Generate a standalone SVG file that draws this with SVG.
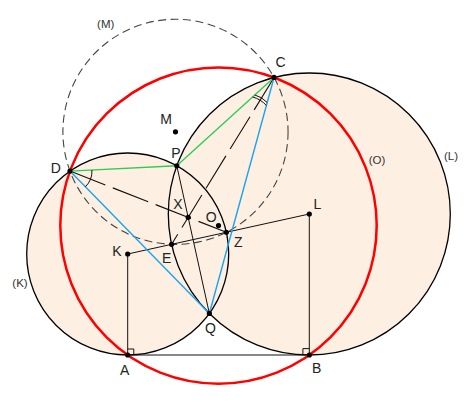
<svg xmlns="http://www.w3.org/2000/svg" width="471" height="404" viewBox="0 0 471 404">
<style>
.fill{fill:#fdf0e3;stroke:none}
.circ{fill:none;stroke:#000;stroke-width:1.3}
.red{fill:none;stroke:#ff0000;stroke-width:2.5}
.dcirc{fill:none;stroke:#444;stroke-width:1.1;stroke-dasharray:8,4.5}
.ln{stroke:#111;stroke-width:1;fill:none}
.dl{stroke:#111;stroke-width:1.1;fill:none;stroke-dasharray:38,8}
.gr{stroke:#2ecc55;stroke-width:1.4}
.bl{stroke:#1aa3f0;stroke-width:1.4}
.pt{fill:#000}
.lbl{font-family:"Liberation Sans",Arial,sans-serif;font-size:14px;fill:#222;text-anchor:middle}
.clbl{font-family:"Liberation Sans",Arial,sans-serif;font-size:11.5px;fill:#333;text-anchor:middle}
</style>
<rect width="471" height="404" fill="#fff"/>
<g id="fills">
<circle class="fill" cx="127.7" cy="254" r="101"/>
<circle class="fill" cx="309.3" cy="214" r="141"/>
</g>
<g id="circleM"><circle class="dcirc" cx="175.48" cy="131.83" r="112.57"/></g>
<g id="circleK"><circle class="circ" cx="127.7" cy="254" r="101"/></g>
<g id="circleL"><circle class="circ" cx="309.3" cy="214" r="141"/></g>
<g id="connectors">
<line class="ln" x1="127.7" y1="254" x2="127.7" y2="355"/>
<line class="ln" x1="309.3" y1="214" x2="309.3" y2="355"/>
<line class="ln" x1="127.7" y1="355" x2="309.3" y2="355"/>
<line class="ln" x1="127.7" y1="254" x2="309.3" y2="214"/>
<line class="ln" x1="176.8" y1="165.75" x2="209.35" y2="313.45"/>
<line class="dl" x1="69.98" y1="171.11" x2="226.34" y2="232.27"/>
<line class="dl" x1="274.06" y1="77.47" x2="171.6" y2="244.33"/>
<line class="gr" x1="69.98" y1="171.11" x2="176.8" y2="165.75"/>
<line class="gr" x1="176.8" y1="165.75" x2="274.06" y2="77.47"/>
<line class="bl" x1="69.98" y1="171.11" x2="209.35" y2="313.45"/>
<line class="bl" x1="274.06" y1="77.47" x2="209.35" y2="313.45"/>
<path class="ln" d="M127.7,349 H133.8 V355"/>
<path class="ln" d="M309.3,348.6 H302.9 V355"/>
<path class="ln" d="M91.95,170 A22,22 0 0 1 85.37,186.82"/>
<path class="ln" d="M254.8,94.97 A26,26 0 0 1 267.19,102.54"/>
<path class="ln" d="M252.58,96.98 A29,29 0 0 1 266.4,105.44"/>
</g>
<g id="circleO"><circle class="red" cx="218.5" cy="225.6" r="158.2"/></g>
<g id="points">
<g id="D"><circle class="pt" cx="69.98" cy="171.11" r="2.6"/><text class="lbl" x="55.8" y="172.7">D</text></g>
<g id="C"><circle class="pt" cx="274.06" cy="77.47" r="2.6"/><text class="lbl" x="280.5" y="66.5">C</text></g>
<g id="P"><circle class="pt" cx="176.8" cy="165.75" r="2.6"/><text class="lbl" x="175.8" y="158.3">P</text></g>
<g id="M"><circle class="pt" cx="175.48" cy="131.83" r="2.6"/><text class="lbl" x="166" y="124">M</text></g>
<g id="X"><circle class="pt" cx="188.17" cy="217.34" r="2.6"/><text class="lbl" x="177.8" y="209">X</text></g>
<g id="O"><circle class="pt" cx="218.5" cy="225.6" r="2.6" fill="#222"/><text class="lbl" x="211.2" y="222">O</text></g>
<g id="E"><circle class="pt" cx="171.6" cy="244.33" r="2.6"/><text class="lbl" x="166.7" y="262.5">E</text></g>
<g id="Z"><circle class="pt" cx="226.34" cy="232.27" r="2.6"/><text class="lbl" x="238.3" y="247">Z</text></g>
<g id="K"><circle class="pt" cx="127.7" cy="254" r="2.6"/><text class="lbl" x="117" y="255.5">K</text></g>
<g id="L"><circle class="pt" cx="309.3" cy="214" r="2.6"/><text class="lbl" x="317.5" y="209">L</text></g>
<g id="Q"><circle class="pt" cx="209.35" cy="313.45" r="2.6"/><text class="lbl" x="210.5" y="333">Q</text></g>
<g id="A"><circle class="pt" cx="127.7" cy="355" r="2.6"/><text class="lbl" x="124.7" y="375">A</text></g>
<g id="B"><circle class="pt" cx="309.3" cy="355" r="2.6"/><text class="lbl" x="316.7" y="372.5">B</text></g>
</g>
<g id="circle-labels">
<text class="clbl" x="105.7" y="28">(M)</text>
<text class="clbl" x="377" y="164">(O)</text>
<text class="clbl" x="451" y="160">(L)</text>
<text class="clbl" x="20" y="287">(K)</text>
</g>
</svg>
